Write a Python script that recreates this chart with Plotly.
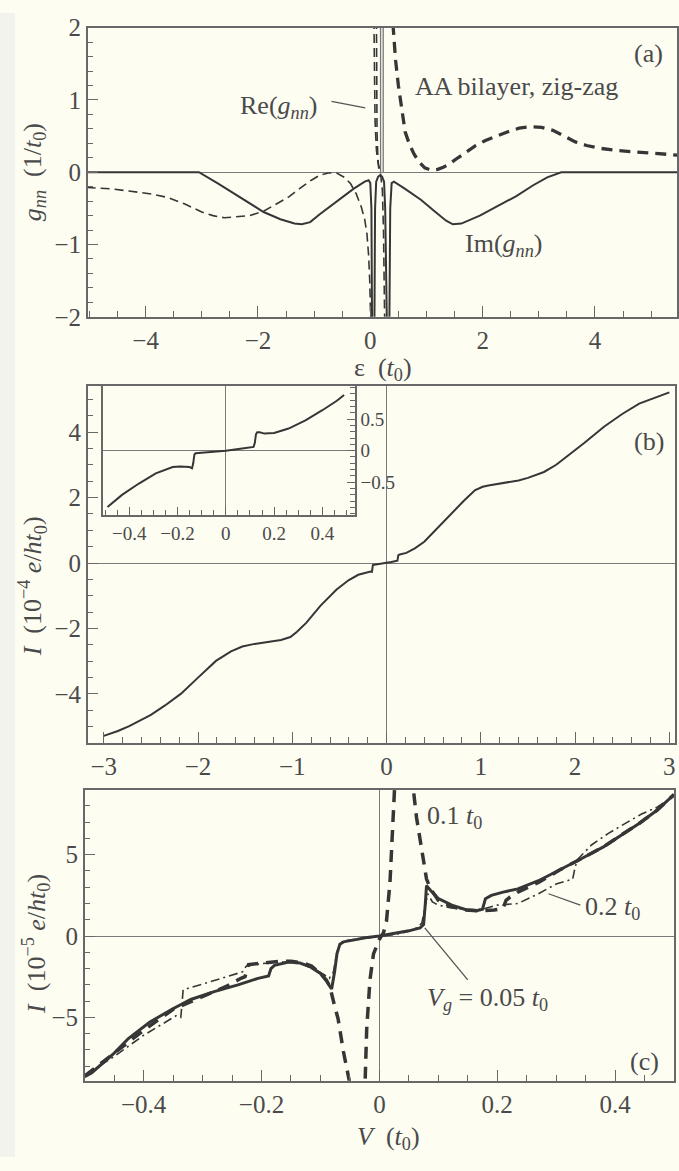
import plotly.graph_objects as go

W, H = 679, 1171
def px(x): return x / W
def py(y): return 1 - y / H

# ---------------- data: panel (a) ----------------
im_x = [-5.1, -3.05, -2.7, -2.3, -1.9, -1.6, -1.35, -1.22, -1.07, -0.9, -0.6, -0.3, -0.1, -0.03, 0.0, 0.02, 0.035,
        0.07, 0.085, 0.105, 0.14, 0.175, 0.21, 0.245, 0.265, 0.28, 0.305, 0.335, 0.355, 0.38, 0.42, 0.6, 0.9, 1.16,
        1.35, 1.47, 1.62, 1.95, 2.25, 2.6, 2.9, 3.15, 3.4, 5.6]
im_y = [0.0, 0.0, -0.16, -0.36, -0.55, -0.65, -0.71, -0.72, -0.69, -0.58, -0.40, -0.23, -0.13, -0.11, -0.15, -0.5, -2.6,
        -2.6, -0.5, -0.13, -0.06, -0.04, -0.06, -0.13, -0.5, -2.6, -2.6, -2.6, -0.5, -0.15, -0.13, -0.22, -0.38, -0.55,
        -0.67, -0.72, -0.71, -0.6, -0.48, -0.33, -0.18, -0.07, 0.0, 0.0]
im_spike_x = [0.183, 0.183, None, 0.23, 0.23]
im_spike_y = [0.0, 2.2, None, 0.0, 2.2]

re_left_x = [-5.05, -4.6, -4.3, -3.9, -3.6, -3.3, -3.0, -2.8, -2.6, -2.4, -2.15, -1.9, -1.69, -1.45, -1.23, -1.05,
             -0.9, -0.75, -0.6, -0.46, -0.35, -0.25, -0.16, -0.1, -0.06, -0.03, -0.01, 0.005, 0.015]
re_left_y = [-0.21, -0.23, -0.26, -0.3, -0.35, -0.44, -0.55, -0.6, -0.63, -0.62, -0.6, -0.54, -0.45, -0.34, -0.21, -0.11,
             -0.04, -0.01, -0.01, -0.07, -0.16, -0.3, -0.48, -0.65, -0.85, -1.15, -1.5, -1.9, -2.3]
re_mid_x = [0.062, 0.07, 0.085, 0.11, 0.14, 0.18, 0.215, 0.235, 0.25, 0.26]
re_mid_y = [2.3, 1.4, 0.7, 0.3, 0.12, 0.0, -0.25, -0.8, -1.5, -2.3]
re_mid2_x = [0.108, 0.112, 0.12, 0.135, 0.15]
re_mid2_y = [2.3, 1.2, 0.55, 0.2, 0.05]
re_right_x = [0.38, 0.41, 0.45, 0.5, 0.56, 0.62, 0.7, 0.78, 0.87, 0.97, 1.08, 1.2, 1.3, 1.4, 1.56, 1.72, 1.88, 2.05,
              2.24, 2.45, 2.65, 2.85, 3.05, 3.25, 3.45, 3.65, 3.85, 4.1, 4.4, 4.7, 5.0, 5.25, 5.5]
re_right_y = [2.3, 1.95, 1.55, 1.2, 0.85, 0.56, 0.38, 0.25, 0.14, 0.06, 0.03, 0.04, 0.07, 0.11, 0.2, 0.29, 0.37, 0.44,
              0.5, 0.56, 0.61, 0.63, 0.62, 0.58, 0.5, 0.42, 0.37, 0.33, 0.3, 0.28, 0.26, 0.245, 0.235]

# ---------------- data: panel (b) ----------------
b_x = [-3.0, -2.85, -2.73, -2.6, -2.5, -2.35, -2.18, -2.0, -1.81, -1.65, -1.53, -1.4, -1.25, -1.12, -1.02, -0.95,
       -0.85, -0.7, -0.53, -0.4, -0.3, -0.22, -0.17, -0.155, -0.145, -0.13, -0.1, -0.05, 0.0, 0.05, 0.1, 0.115, 0.125,
       0.14, 0.21, 0.3, 0.4, 0.48, 0.6, 0.71, 0.82, 0.94, 1.02, 1.08, 1.2, 1.3, 1.4, 1.5, 1.67, 1.8, 1.95, 2.1, 2.31,
       2.5, 2.68, 2.85, 3.0]
b_y = [-5.28, -5.13, -4.98, -4.8, -4.64, -4.35, -3.99, -3.5, -2.99, -2.7, -2.55, -2.47, -2.41, -2.35, -2.26, -2.1,
       -1.82, -1.3, -0.81, -0.52, -0.36, -0.29, -0.26, -0.27, -0.06, -0.05, -0.04, -0.02, 0.0, 0.03, 0.06, 0.07, 0.24,
       0.26, 0.31, 0.45, 0.65, 0.89, 1.25, 1.58, 1.9, 2.23, 2.33, 2.37, 2.43, 2.47, 2.52, 2.6, 2.78, 3.0, 3.33, 3.67,
       4.17, 4.55, 4.87, 5.05, 5.21]
inset_x = [-0.49, -0.43, -0.36, -0.29, -0.22, -0.19, -0.15, -0.14, -0.135, -0.13, -0.125, -0.06, 0.0, 0.06, 0.115,
           0.12, 0.125, 0.13, 0.14, 0.16, 0.2, 0.26, 0.33, 0.4, 0.46, 0.49]
inset_y = [-0.89, -0.70, -0.52, -0.36, -0.26, -0.25, -0.26, -0.28, -0.2, -0.06, -0.04, -0.02, 0.0, 0.03, 0.06, 0.12,
           0.26, 0.29, 0.29, 0.27, 0.28, 0.35, 0.48, 0.64, 0.79, 0.88]

# ---------------- data: panel (c) ----------------
c_sol_x = [-0.5, -0.488, -0.45, -0.426, -0.39, -0.352, -0.32, -0.279, -0.24, -0.206, -0.188, -0.184, -0.178, -0.165,
           -0.154, -0.135, -0.117, -0.1, -0.09, -0.084, -0.081, -0.076, -0.072, -0.067, -0.061, -0.04, -0.024, 0.0,
           0.032, 0.05, 0.069, 0.075, 0.078, 0.08, 0.087, 0.1, 0.123, 0.147, 0.165, 0.175, 0.18, 0.19, 0.21, 0.235,
           0.27, 0.308, 0.345, 0.381, 0.41, 0.44, 0.47, 0.5]
c_sol_y = [-8.65, -8.4, -7.2, -6.3, -5.3, -4.5, -3.9, -3.4, -3.0, -2.6, -2.45, -2.0, -1.8, -1.68, -1.6, -1.65, -1.9,
           -2.3, -2.75, -3.1, -3.25, -2.2, -1.1, -0.5, -0.36, -0.22, -0.1, 0.0, 0.2, 0.32, 0.5, 0.7, 2.0, 3.1, 2.8,
           2.3, 1.9, 1.62, 1.55, 1.65, 2.3, 2.5, 2.7, 2.9, 3.4, 4.1, 4.8, 5.5, 6.2, 6.9, 7.7, 8.7]
c_dash_a_x = [-0.5, -0.45, -0.4, -0.35, -0.3, -0.26, -0.235, -0.228, -0.222, -0.2, -0.17, -0.15, -0.13, -0.115, -0.1,
              -0.09, -0.084, -0.078, -0.07, -0.061, -0.053, -0.045]
c_dash_a_y = [-8.6, -7.2, -5.8, -4.5, -3.7, -3.1, -2.6, -2.5, -1.75, -1.65, -1.55, -1.55, -1.65, -1.85, -2.3, -2.7,
              -3.1, -4.0, -5.1, -7.1, -8.7, -10.0]
c_dash_b_x = [-0.026, -0.024, -0.0215, -0.016, -0.01, 0.0, 0.007, 0.012, 0.018, 0.022, 0.025, 0.027]
c_dash_b_y = [-10.0, -8.7, -5.7, -2.7, -1.1, -0.2, 0.2, 0.9, 3.3, 6.3, 8.9, 10.0]
c_dash_c_x = [0.056, 0.058, 0.063, 0.072, 0.08, 0.087, 0.1, 0.123, 0.147, 0.17, 0.195, 0.21, 0.215, 0.222, 0.235,
              0.27, 0.308, 0.345, 0.381, 0.41, 0.44, 0.47, 0.5]
c_dash_c_y = [10.0, 8.9, 7.3, 5.3, 3.5, 2.9, 2.2, 1.8, 1.6, 1.55, 1.6, 1.7, 2.2, 2.4, 2.7, 3.3, 4.1, 4.8, 5.5, 6.2,
              6.9, 7.7, 8.7]
c_dd_x = [-0.5, -0.45, -0.4, -0.36, -0.345, -0.337, -0.333, -0.3, -0.26, -0.232, -0.226, -0.2, -0.17, -0.15, -0.13,
          -0.11, -0.095, -0.085, -0.078, -0.072, -0.066, -0.06, -0.04, -0.02, 0.0, 0.03, 0.05, 0.063, 0.072, 0.077,
          0.082, 0.09, 0.1, 0.12, 0.15, 0.175, 0.2, 0.235, 0.27, 0.3, 0.328, 0.332, 0.336, 0.36, 0.388, 0.416, 0.445,
          0.47, 0.5]
c_dd_y = [-8.6, -7.4, -6.1, -5.2, -4.9, -5.0, -3.3, -2.95, -2.5, -2.2, -1.85, -1.7, -1.6, -1.62, -1.75, -2.05, -2.35,
          -2.6, -2.2, -1.0, -0.45, -0.3, -0.2, -0.1, 0.0, 0.12, 0.3, 0.5, 0.8, 1.8, 2.6, 2.1, 1.9, 1.75, 1.62, 1.65,
          1.9, 2.0, 2.6, 3.2, 3.5, 4.2, 4.7, 5.6, 6.3, 6.9, 7.5, 7.9, 8.6]

# tick labels
a_xticks = [-4, -2, 0, 2, 4]
a_yticks = [-2, -1, 0, 1, 2]
b_xticks = [-3, -2, -1, 0, 1, 2, 3]
b_yticks = [-4, -2, 0, 2, 4]
c_xticks = [-0.4, -0.2, 0, 0.2, 0.4]
c_yticks = [-5, 0, 5]
in_xticks = [-0.4, -0.2, 0, 0.2, 0.4]
in_yticks = [-0.5, 0, 0.5]

INK = '#363636'
AX = '#686868'
TXT = '#4a4a4a'
BG = '#fdfdf2'
FONT = 'Liberation Serif'
TICK = 25
LBL = 26

def tick_text(vals):
    return [('%g' % v).replace('-', '\u2212') for v in vals]

fig = go.Figure()

def line(x, y, xa, ya, width=2, dash='solid', color=INK):
    fig.add_trace(go.Scatter(x=x, y=y, xaxis=xa, yaxis=ya, mode='lines',
                             line=dict(color=color, width=width, dash=dash),
                             connectgaps=False, showlegend=False, hoverinfo='skip'))

# panel (a)
line(im_spike_x, im_spike_y, 'x', 'y', width=1.3, color='#777777')
line(im_x, im_y, 'x', 'y', width=2)
line(re_left_x, re_left_y, 'x', 'y', width=1.6, dash='9px,5px')
line(re_mid_x, re_mid_y, 'x', 'y', width=1.6, dash='9px,5px')
line(re_mid2_x, re_mid2_y, 'x', 'y', width=1.6, dash='9px,5px')
line(re_right_x, re_right_y, 'x', 'y', width=3.3, dash='11px,7px')
# panel (b)
line(b_x, b_y, 'x2', 'y2', width=2)
line(inset_x, inset_y, 'x4', 'y4', width=2)
# panel (c)
line(c_dd_x, c_dd_y, 'x3', 'y3', width=1.6, dash='9px,4px,2px,4px')
line(c_dash_a_x, c_dash_a_y, 'x3', 'y3', width=3.5, dash='12px,8px')
line(c_dash_b_x, c_dash_b_y, 'x3', 'y3', width=3.5, dash='12px,8px')
line(c_dash_c_x, c_dash_c_y, 'x3', 'y3', width=3.5, dash='12px,8px')
line(c_sol_x, c_sol_y, 'x3', 'y3', width=3)

def axis(domain, rng, ticks, minor_dtick, anchor, zeroline, size=TICK, side=None, ticklen=11, minorlen=6):
    d = dict(domain=domain, range=rng, anchor=anchor, showline=True, linecolor=AX, linewidth=1.5,
             mirror=True, ticks='inside', ticklen=ticklen, tickwidth=1.3, tickcolor=AX,
             tickmode='array', tickvals=ticks, ticktext=tick_text(ticks),
             showgrid=False, zeroline=zeroline, zerolinecolor='#7a7a7a', zerolinewidth=1.3,
             tickfont=dict(family=FONT, size=size, color=TXT),
             minor=dict(ticks='inside', ticklen=minorlen, tickwidth=1.2, tickcolor=AX, dtick=minor_dtick,
                        tick0=0, showgrid=False),
             fixedrange=True)
    if side:
        d['side'] = side
    return d

fig.update_layout(
    width=W, height=H, margin=dict(l=0, r=0, t=0, b=0),
    paper_bgcolor=BG, plot_bgcolor=BG,
    xaxis=axis([px(88), 1.0], [-5.03, 5.46], a_xticks, 0.5, 'y', False),
    yaxis=axis([py(311), py(15)], [-2, 2], a_yticks, 0.2, 'x', True),
    xaxis2=axis([px(88), px(677)], [-3.17, 3.06], b_xticks, 0.2, 'y2', True),
    yaxis2=axis([py(747), py(382)], [-5.49, 5.4], b_yticks, 0.5, 'x2', True),
    xaxis3=axis([px(85), px(676)], [-0.5, 0.5], c_xticks, 0.05, 'y3', True),
    yaxis3=axis([py(1093), py(795)], [-8.9, 9.0], c_yticks, 1, 'x3', True),
    xaxis4=axis([px(103), px(356)], [-0.51, 0.535], in_xticks, 0.05, 'y4', True, size=19, ticklen=8, minorlen=5),
    yaxis4=axis([py(514), py(382)], [-1.02, 1.02], in_yticks, 0.1, 'x4', True, size=19, side='right',
                ticklen=8, minorlen=5),
)

ann = []
def text(x, y, s, xref, yref, size=LBL, xanchor='center', yanchor='middle', angle=0):
    ann.append(dict(x=x, y=y, xref=xref, yref=yref, text=s, showarrow=False, xanchor=xanchor, yanchor=yanchor,
                    textangle=angle, font=dict(family=FONT, size=size, color=TXT)))

# panel labels & texts
text(4.96, 1.64, '(a)', 'x', 'y')
text(0.76, 1.19, 'AA bilayer, zig-zag', 'x', 'y', xanchor='left')
text(-1.64, 0.9, 'Re(<i>g</i><sub><i>nn</i></sub>)', 'x', 'y')
text(2.38, -1.0, 'Im(<i>g</i><sub><i>nn</i></sub>)', 'x', 'y')
text(2.78, 3.72, '(b)', 'x2', 'y2')
text(0.45, -7.7, '(c)', 'x3', 'y3')
text(0.128, 7.3, '0.1 <i>t</i><sub>0</sub>', 'x3', 'y3')
text(0.396, 1.7, '0.2 <i>t</i><sub>0</sub>', 'x3', 'y3')
text(0.183, -3.9, '<i>V</i><sub><i>g</i></sub> = 0.05 <i>t</i><sub>0</sub>', 'x3', 'y3')
# axis titles
text(px(34), py(163), '<i>g</i><sub><i>nn</i></sub>  (1/<i>t</i><sub>0</sub>)', 'paper', 'paper', angle=-90)
text(px(384), py(364), '\u03b5  (<i>t</i><sub>0</sub>)', 'paper', 'paper')
text(px(33), py(587), '<i>I</i>  (10<sup>\u22124</sup> <i>e</i>/<i>ht</i><sub>0</sub>)', 'paper', 'paper', angle=-90)
text(px(36), py(953), '<i>I</i>  (10<sup>\u22125</sup> <i>e</i>/<i>ht</i><sub>0</sub>)', 'paper', 'paper', angle=-90)
text(px(390), py(1152), '<i>V</i>  (<i>t</i><sub>0</sub>)', 'paper', 'paper')
fig.update_layout(annotations=ann)

shapes = [
    dict(type='rect', xref='paper', yref='paper', x0=0, x1=px(15), y0=0, y1=1, fillcolor='#f3f3ee',
         line=dict(width=0), layer='below'),
    dict(type='line', xref='x', yref='y', x0=-0.69, y0=0.98, x1=-0.09, y1=0.89, line=dict(color='#555', width=1.3)),
    dict(type='line', xref='x3', yref='y3', x0=0.150, y0=-2.7, x1=0.077, y1=0.5, line=dict(color='#555', width=1.3)),
    dict(type='line', xref='x3', yref='y3', x0=0.341, y0=1.9, x1=0.287, y1=2.6, line=dict(color='#555', width=1.3)),
]
fig.update_layout(shapes=shapes)

fig.write_html('out.html')
